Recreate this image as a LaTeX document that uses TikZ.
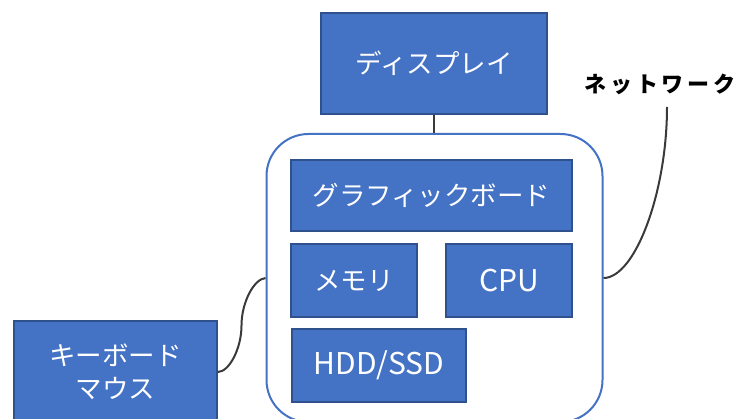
\documentclass[tikz,border=0pt]{standalone}
\usepackage{fontspec}
\setmainfont{Noto Sans CJK JP}
\definecolor{boxfill}{HTML}{4472C4}
\definecolor{boxedge}{HTML}{2F528F}
\definecolor{wire}{HTML}{3A3A3A}
\begin{document}
\begin{tikzpicture}[x=1pt,y=-1pt,
  blk/.style={draw=boxedge,line width=1.6pt,fill=boxfill,text=white,
    font=\fontsize{26.5}{33}\selectfont,inner sep=0pt,align=center},
  latin/.style={font=\fontsize{30}{33}\selectfont},
  cont/.style={draw=boxfill,line width=2pt,fill=white,rounded corners=42pt,inner sep=0pt},
  wirestyle/.style={draw=wire,line width=2pt}]
\clip (0,0) rectangle (739,419);
\node[cont,minimum width=336pt,minimum height=288pt] (pc) at (434.5,278) {};
\node[blk,minimum width=226pt,minimum height=101pt] (disp) at (434,63.5) {ディスプレイ};
\node[blk,minimum width=281pt,minimum height=71pt] (gpu) at (431.5,195.5) {グラフィックボード};
\node[blk,minimum width=126pt,minimum height=73pt] (mem) at (354,280.5) {メモリ};
\node[blk,latin,minimum width=126pt,minimum height=73pt] (cpu) at (509,280.5) {CPU};
\node[blk,latin,minimum width=174pt,minimum height=73pt] (hdd) at (379,365.5) {HDD/SSD};
\node[blk,minimum width=203pt,minimum height=102pt] (kb) at (115.5,372) {キーボード\\マウス};
\node[font=\fontsize{22}{26}\selectfont\bfseries,inner sep=0pt] (net) at (660,84) {ネ\,ッ\,ト\,ワ\,ー\,ク};
\coordinate (netpt) at (667,107);
\draw[wirestyle] (disp.south) -- (disp.south |- pc.north);
\draw[wirestyle] (kb.east) .. controls (229,372) and (241.5,348.75) .. (241.5,325.5)
  .. controls (241.5,302.25) and (254,279) .. (pc.west);
\draw[wirestyle] (pc.east) .. controls (635,278) and (667,192.5) .. (netpt);
\end{tikzpicture}
\end{document}
